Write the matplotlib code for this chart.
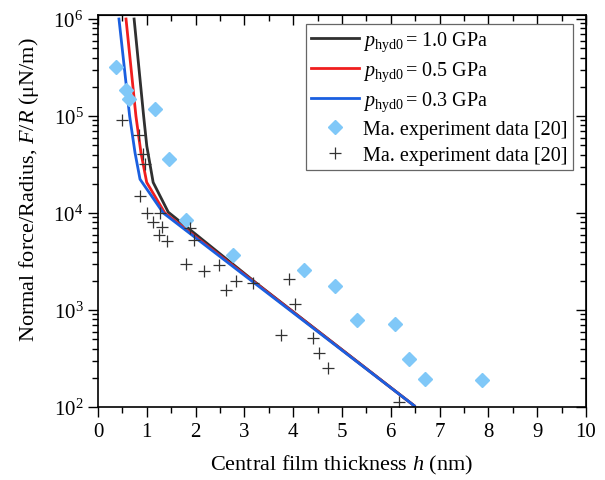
import matplotlib
matplotlib.use("Agg")
from matplotlib import pyplot as plt
from matplotlib.ticker import MultipleLocator

plt.rcParams['font.family'] = ['Liberation Serif', 'DejaVu Serif']
plt.rcParams['mathtext.fontset'] = 'custom'
plt.rcParams['mathtext.rm'] = 'Liberation Serif'
plt.rcParams['mathtext.it'] = 'Liberation Serif:italic'
plt.rcParams['mathtext.bf'] = 'Liberation Serif:bold'

# model curves, film thickness h (nm) vs F/R (uN/m)
h_10 = [0.74, 0.935, 1.0, 1.13, 1.44, 3.3, 6.48]
F_10 = [1e6, 1e5, 4.9e4, 2.07e4, 1.02e4, 1.8e3, 1.03e2]
h_05 = [0.574, 0.777, 0.88, 0.998, 1.37, 3.3, 6.48]
F_05 = [1e6, 1e5, 4.2e4, 2.07e4, 1.0e4, 1.78e3, 1.03e2]
h_03 = [0.43, 0.648, 0.758, 0.861, 1.338, 6.48]
F_03 = [1e6, 1e5, 4.2e4, 2.23e4, 1.0e4, 1.03e2]

# Ma. experiment data (diamonds)
h_dia = [0.37, 0.57, 0.63, 1.17, 1.46, 1.80, 2.77, 4.23, 4.86, 5.31, 6.09, 6.38, 6.71, 7.86]
F_dia = [3.2e5, 1.87e5, 1.48e5, 1.17e5, 3.6e4, 8.5e3, 3.7e3, 2.6e3, 1.75e3, 7.9e2, 7.1e2, 3.1e2, 1.95e2, 1.9e2]

# Ma. experiment data (crosses)
h_plus = [0.50, 0.83, 0.92, 0.96, 0.87, 1.01, 1.27, 1.13, 1.31, 1.26, 1.42, 1.89, 1.97,
          1.80, 2.18, 2.48, 2.82, 2.62, 3.18, 3.92, 4.04, 3.74, 4.41, 4.53, 4.71, 6.17]
F_plus = [9.1e4, 6.3e4, 4.1e4, 3.2e4, 1.5e4, 1.0e4, 1.0e4, 8.0e3, 7.1e3, 5.9e3, 5.1e3, 7.0e3, 5.3e3,
          3.0e3, 2.5e3, 2.9e3, 2.0e3, 1.6e3, 1.9e3, 2.1e3, 1.14e3, 5.5e2, 5.2e2, 3.6e2, 2.55e2, 1.12e2]

fig = plt.figure(figsize=(6.05, 4.81), dpi=100)
ax = fig.add_axes([98/605, 1-408/481, 488/605, 392/481])

ax.plot(h_10, F_10, color="#303030", lw=2.0, label=r"$p_{\rm hyd0}\,$= 1.0 GPa")
ax.plot(h_05, F_05, color="#f01e1e", lw=2.0, label=r"$p_{\rm hyd0}\,$= 0.5 GPa")
ax.plot(h_03, F_03, color="#1a5fe0", lw=2.0, label=r"$p_{\rm hyd0}\,$= 0.3 GPa")
ax.plot(h_dia, F_dia, "D", color="#80c8f8", markersize=7.5, ls="none",
        label="Ma. experiment data [20]")
ax.plot(h_plus, F_plus, "+", color="#333333", markersize=9, mew=0.9, ls="none",
        label="Ma. experiment data [20]")

ax.set_yscale("log")
ax.set_xlim(0, 10)
ax.set_ylim(1e2, 1.1e6)
ax.xaxis.set_major_locator(MultipleLocator(1))
ax.xaxis.set_minor_locator(MultipleLocator(0.5))

ax.tick_params(which="both", direction="out", labelsize=15, width=1, top=False, right=False)
ax.tick_params(which="major", length=7)
ax.tick_params(which="minor", length=4)
for s in ax.spines.values():
    s.set_linewidth(1.2)

# mirrored ticks pointing inward on top and right
top = ax.secondary_xaxis("top")
top.xaxis.set_major_locator(MultipleLocator(1))
top.xaxis.set_minor_locator(MultipleLocator(0.5))
top.tick_params(which="both", direction="in", labeltop=False, width=1)
top.tick_params(which="major", length=7)
top.tick_params(which="minor", length=4)
right = ax.secondary_yaxis("right")
right.tick_params(which="both", direction="in", labelright=False, width=1)
right.tick_params(which="major", length=7)
right.tick_params(which="minor", length=4)

ax.set_xlabel(r"Central film thickness $h$ (nm)", fontsize=16, labelpad=9)
ax.set_ylabel(r"Normal force/Radius, $F/R$ (μN/m)", fontsize=16)
ax.yaxis.set_label_coords(-0.116, 0.556)

leg = ax.legend(loc="upper right", bbox_to_anchor=(0.973, 0.977), fontsize=14.5,
                frameon=True, fancybox=False, framealpha=1, edgecolor="#666666",
                handlelength=2.4, handletextpad=0.2, labelspacing=0.34,
                borderpad=0.25, borderaxespad=0)
leg.get_frame().set_linewidth(0.9)

plt.savefig("out.png", dpi=100)
